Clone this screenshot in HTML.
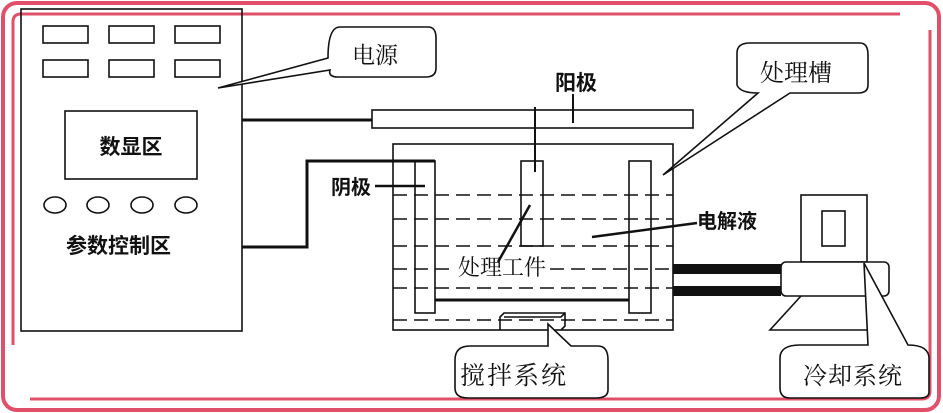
<!DOCTYPE html>
<html><head><meta charset="utf-8"><style>
html,body{margin:0;padding:0;background:#fff;}
svg{display:block;}
text{font-family:"Liberation Sans","Noto Sans CJK SC",sans-serif;fill:#111;}
.s{font-family:"Liberation Serif","Noto Serif CJK SC",serif;}
</style></head><body>
<svg width="943" height="413" viewBox="0 0 943 413" xmlns="http://www.w3.org/2000/svg">
<rect x="0" y="0" width="943" height="413" fill="#fff"/>
<rect x="3" y="3" width="936" height="407" rx="14" fill="none" stroke="#e0506a" stroke-width="4"/>
<path d="M13 345 V22 Q13 14 21 14 H900" fill="none" stroke="#e0506a" stroke-width="3"/>
<path d="M30 399 H922 Q930 399 930 391 V30" fill="none" stroke="#e0506a" stroke-width="3"/>
<g fill="none" stroke="#111" stroke-width="1.6">
<rect x="21" y="9" width="221" height="322"/>
<rect x="43" y="26" width="45" height="17"/><rect x="109" y="26" width="45" height="17"/><rect x="175" y="26" width="45" height="17"/>
<rect x="43" y="60" width="45" height="17"/><rect x="109" y="60" width="45" height="17"/><rect x="175" y="60" width="45" height="17"/>
<rect x="65" y="111" width="132" height="68"/>
<ellipse cx="55" cy="205" rx="11" ry="8"/><ellipse cx="98" cy="205" rx="11" ry="8"/><ellipse cx="142" cy="205" rx="11" ry="8"/><ellipse cx="186" cy="205" rx="11" ry="8"/>
<path d="M328 58 Q328 27 340 27 H428 Q436 27 436 38 V68 Q436 77 426 77 H338 Q328 77 330 70 L218 88 Z" fill="#fff"/>
<path d="M242 120 H372" stroke-width="3"/>
<rect x="372" y="110" width="321" height="18" fill="#fff"/>
<path d="M573 94 V123" stroke-width="2"/>
<path d="M535 107 V172" stroke-width="2"/>
<rect x="393" y="144" width="280" height="186"/>
<path d="M242 247 H307 V161 H435" stroke-width="3"/>
<g stroke-dasharray="14 7">
<path d="M393 195 H673"/><path d="M393 219 H673"/><path d="M393 246 H673"/>
<path d="M393 269 H455"/><path d="M550 269 H673"/><path d="M393 288 H673"/><path d="M393 320 H673"/>
</g>
<rect x="415" y="161" width="20" height="152"/>
<rect x="629" y="161" width="22" height="152"/>
<rect x="521" y="161" width="22" height="85"/>
<path d="M435 300 H629" stroke-width="3"/>
<path d="M375 186 H425" stroke-width="2.5"/>
<path d="M530 205 L498 262" stroke-width="2.5"/>
<path d="M592 237 L697 223" stroke-width="2.5"/>
<path d="M500 330 V317 L504 313 H565 V326 L561 330"/>
<path d="M504 317 H561 L565 313"/>
<path d="M758 93 Q740 93 737 85 V53 Q737 43 750 43 H860 Q868 43 868 55 V85 Q868 93 858 93 H790 L663 175 Z" fill="#fff"/>
<path d="M673 269 H781 M673 291 H781" stroke-width="10"/>
<rect x="801" y="195" width="66" height="67"/>
<rect x="822" y="211" width="23" height="35"/>
<rect x="781" y="262" width="108" height="34" rx="5" fill="#fff"/>
<path d="M801 296 L770 330 H868"/>
<path d="M868 345 L864 263 L908 345 Q930 345 929 360 V392 Q929 398 920 398 H790 Q780 398 780 388 V358 Q780 345 800 345 Z" fill="#fff"/>
<path d="M548 346 V324 L571 346 H598 Q608 346 608 360 V390 Q608 398 596 398 H468 Q455 398 455 388 V360 Q455 346 470 346 Z" fill="#fff"/>
</g>
<text x="131" y="154" font-size="21" text-anchor="middle" font-weight="bold">数显区</text>
<text x="66" y="253" font-size="21" font-weight="bold">参数控制区</text>
<text class="s" x="352" y="63" font-size="23">电源</text>
<text x="555" y="90" font-size="21" font-weight="bold">阳极</text>
<text x="331" y="194" font-size="20" font-weight="bold">阴极</text>
<text class="s" x="458" y="275" font-size="22">处理工件</text>
<text x="697" y="228" font-size="20" font-weight="bold">电解液</text>
<text class="s" x="760" y="81" font-size="24">处理槽</text>
<text class="s" x="460" y="384" font-size="25" letter-spacing="2">搅拌系统</text>
<text class="s" x="803" y="384" font-size="24" letter-spacing="1">冷却系统</text>
</svg>
</body></html>
